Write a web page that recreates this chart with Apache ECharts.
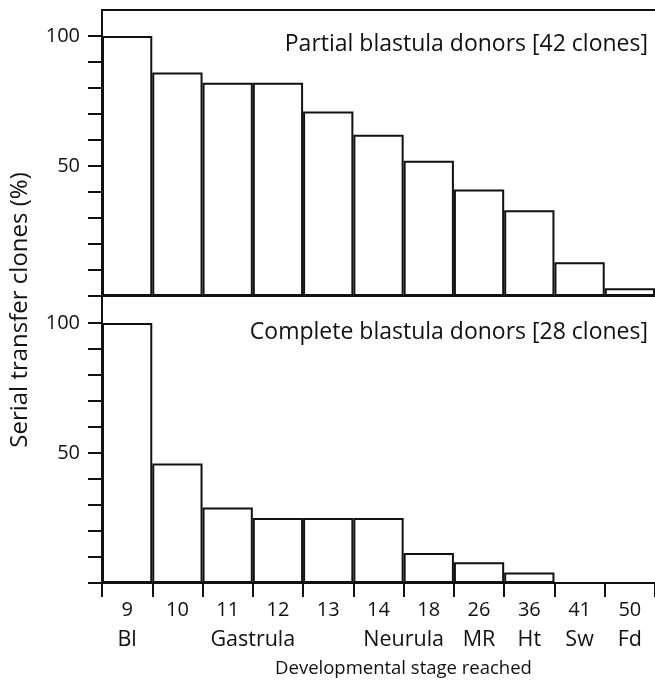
<!DOCTYPE html>
<html><head><meta charset="utf-8">
<script src="https://cdn.jsdelivr.net/npm/echarts@6/dist/echarts.min.js"></script>
<style>html,body{margin:0;padding:0;background:#fff}#c{width:655px;height:683px}</style>
</head><body><div id="c"></div>
<script>
const stages = ['9','10','11','12','13','14','18','26','36','41','50'];
const partialValues = [100, 86, 82, 82, 71, 62, 52, 41, 33, 13, 3];
const completeValues = [100, 46, 29, 25, 25, 25, 11.5, 8, 4, 0, 0];
const stageNames = ['Bl','Gastrula','Neurula','MR','Ht','Sw','Fd'];
const stageNamePos = [0.5, 3, 6, 7.5, 8.5, 9.5, 10.5];
const yTicks = [0,10,20,30,40,50,60,70,80,90,100];
const yLabels = [50,100];
const titleTop = 'Partial blastula donors [42 clones]';
const titleBottom = 'Complete blastula donors [28 clones]';
const yTitle = 'Serial transfer clones (%)';
const xTitle = 'Developmental stage reached';

const FONT = '"Open Sans"';
const INK = '#111';
const chart = echarts.init(document.getElementById('c'), null, {renderer:'canvas'});
const lineStyle = {color: INK, width: 2};
function yAxisFor(gi){
  return {
    type:'value', gridIndex: gi, min:0, max:110, interval:10,
    axisLine:{show:true, lineStyle},
    axisTick:{show:true, inside:false, length:14, lineStyle, customValues: yTicks},
    axisLabel:{show:true, margin:22, fontFamily:FONT, fontSize:20, color:INK, customValues: yLabels},
    splitLine:{show:false}
  };
}
const nameMap = {};
stageNamePos.forEach((p,i)=>{nameMap[p]=stageNames[i];});
chart.setOption({
  animation:false,
  textStyle:{fontFamily:FONT},
  title:[
    {text:titleTop, right:2, top:28, textStyle:{fontFamily:FONT, fontSize:23, fontWeight:'normal', color:INK}},
    {text:titleBottom, right:2, top:316, textStyle:{fontFamily:FONT, fontSize:23, fontWeight:'normal', color:INK}}
  ],
  grid:[
    {left:102, top:10, width:561, height:286},
    {left:102, top:297, width:561, height:286}
  ],
  xAxis:[
    {type:'category', gridIndex:0, data:stages, position:'bottom',
      axisLine:{show:true, lineStyle}, axisTick:{show:false}, axisLabel:{show:false}},
    {type:'category', gridIndex:0, data:stages, position:'top',
      axisLine:{show:true, lineStyle}, axisTick:{show:false}, axisLabel:{show:false}},
    {type:'category', gridIndex:1, data:stages, position:'bottom',
      axisLine:{show:true, lineStyle},
      axisTick:{show:true, inside:false, length:14, lineStyle, alignWithLabel:false},
      axisLabel:{show:true, margin:17, fontFamily:FONT, fontSize:20, color:INK, interval:0}},
    {type:'value', gridIndex:1, min:0, max:11, position:'bottom',
      axisLine:{show:false}, axisTick:{show:false}, splitLine:{show:false},
      axisLabel:{show:true, margin:46, fontFamily:FONT, fontSize:21.5, color:INK,
        customValues: stageNamePos, formatter:(v)=>nameMap[v] || ''},
      name:xTitle, nameLocation:'middle', nameGap:76,
      nameTextStyle:{fontFamily:FONT, fontSize:18.5, color:INK, padding:[0,0,0,50]}}
  ],
  yAxis:[yAxisFor(0), yAxisFor(1)],
  graphic:[
    {type:'text', x:20, y:310, rotation:Math.PI/2,
      style:{text:yTitle, fontFamily:FONT, fontSize:24, fill:INK, align:'center', verticalAlign:'middle'}}
  ],
  series:[
    {type:'bar', xAxisIndex:0, yAxisIndex:0, data:partialValues, barCategoryGap:'0%',
      itemStyle:{color:'#fff', borderColor:INK, borderWidth:2}},
    {type:'bar', xAxisIndex:2, yAxisIndex:1, data:completeValues, barCategoryGap:'0%',
      itemStyle:{color:'#fff', borderColor:INK, borderWidth:2}}
  ]
});
</script></body></html>
